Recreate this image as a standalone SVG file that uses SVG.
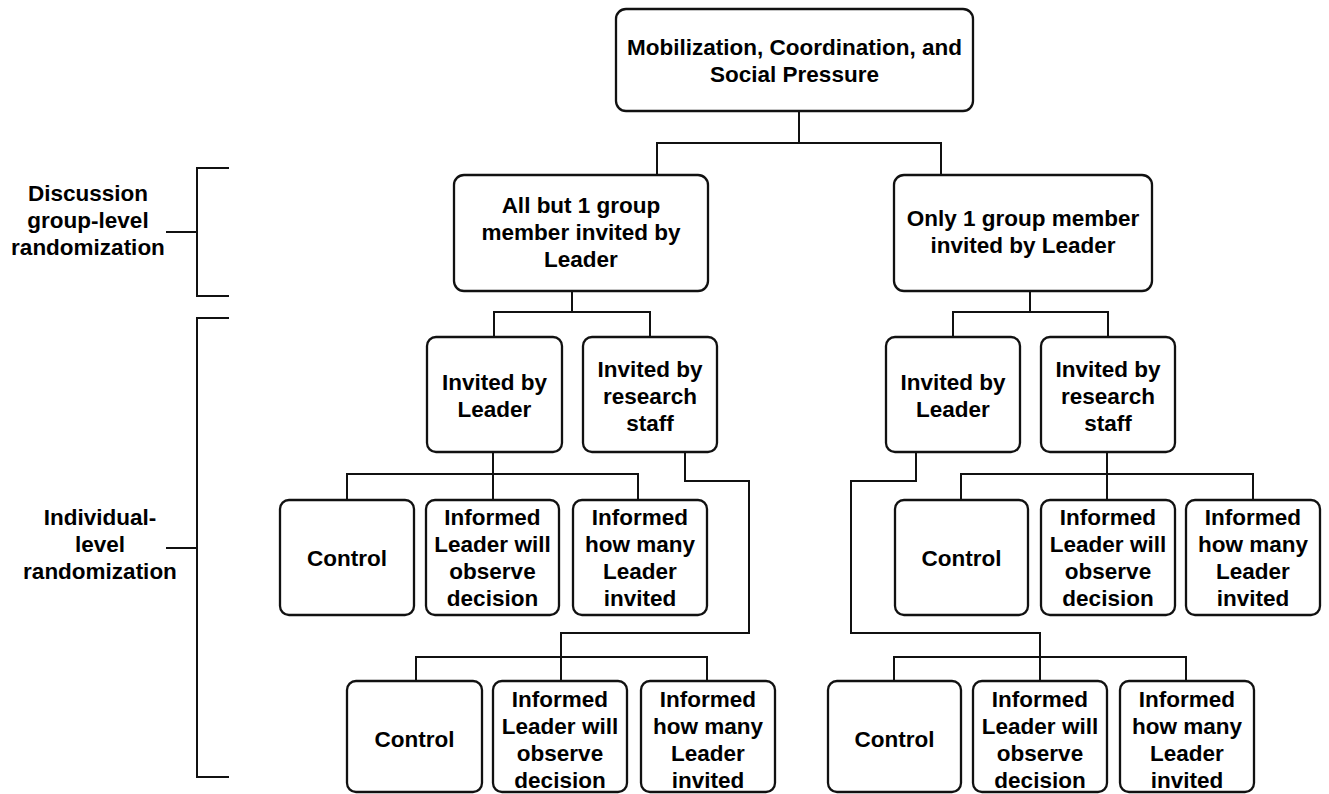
<svg xmlns="http://www.w3.org/2000/svg" width="1329" height="794" viewBox="0 0 1329 794">
<style>
.box{fill:#fff;stroke:#111;stroke-width:2.3}
.ln{fill:none;stroke:#111;stroke-width:2}
text{font-family:"Liberation Sans",Arial,sans-serif;font-weight:bold;font-size:22.5px;fill:#000;text-anchor:middle}
</style>
<rect width="1329" height="794" fill="#fff"/>
<g id="connectors">
<path class="ln" d="M799,111V143M657,175V143H941V175"/>
<path class="ln" d="M572,291V312M494,337V312H650V337"/>
<path class="ln" d="M1030,291V312M953,337V312H1108V337"/>
<path class="ln" d="M493,452V500M347,500V474H638V500"/>
<path class="ln" d="M685,452V481H749V633H561V681M416,681V657H707V681"/>
<path class="ln" d="M916,452V481H851V633H1040V681M894,681V657H1186V681"/>
<path class="ln" d="M1107,452V500M961,500V474H1253V500"/>
</g>
<g id="brackets">
<path class="ln" d="M229,168H197V296H229M166,232H197"/>
<path class="ln" d="M229,318H197V777H229M166,548H197"/>
</g>
<g id="label-discussion">
<text x="88" y="201">Discussion</text>
<text x="88" y="228">group-level</text>
<text x="88" y="255">randomization</text>
</g>
<g id="label-individual">
<text x="100" y="525">Individual-</text>
<text x="100" y="552">level</text>
<text x="100" y="579">randomization</text>
</g>
<g id="root">
<rect class="box" x="616" y="9" width="357" height="102" rx="10"/>
<text x="794.5" y="55">Mobilization, Coordination, and</text>
<text x="794.5" y="82">Social Pressure</text>
</g>
<g id="allbut1">
<rect class="box" x="454" y="175" width="254" height="116" rx="10"/>
<text x="581" y="213">All but 1 group</text>
<text x="581" y="240">member invited by</text>
<text x="581" y="267">Leader</text>
</g>
<g id="only1">
<rect class="box" x="894" y="175" width="258" height="116" rx="10"/>
<text x="1023" y="226">Only 1 group member</text>
<text x="1023" y="253">invited by Leader</text>
</g>
<g id="L-leader">
<rect class="box" x="427" y="337" width="135" height="115" rx="9"/>
<text x="494.5" y="390">Invited by</text>
<text x="494.5" y="417">Leader</text>
</g>
<g id="L-staff">
<rect class="box" x="583" y="337" width="134" height="115" rx="9"/>
<text x="650" y="377">Invited by</text>
<text x="650" y="404">research</text>
<text x="650" y="431">staff</text>
</g>
<g id="R-leader">
<rect class="box" x="886" y="337" width="134" height="115" rx="9"/>
<text x="953" y="390">Invited by</text>
<text x="953" y="417">Leader</text>
</g>
<g id="R-staff">
<rect class="box" x="1041" y="337" width="134" height="115" rx="9"/>
<text x="1108" y="377">Invited by</text>
<text x="1108" y="404">research</text>
<text x="1108" y="431">staff</text>
</g>
<g id="LL-control">
<rect class="box" x="280" y="500" width="134" height="115" rx="9"/>
<text x="347" y="566">Control</text>
</g>
<g id="LL-observe">
<rect class="box" x="426" y="500" width="133" height="115" rx="9"/>
<text x="492.5" y="525">Informed</text>
<text x="492.5" y="552">Leader will</text>
<text x="492.5" y="579">observe</text>
<text x="492.5" y="606">decision</text>
</g>
<g id="LL-howmany">
<rect class="box" x="573" y="500" width="134" height="115" rx="9"/>
<text x="640" y="525">Informed</text>
<text x="640" y="552">how many</text>
<text x="640" y="579">Leader</text>
<text x="640" y="606">invited</text>
</g>
<g id="RS-control">
<rect class="box" x="895" y="500" width="133" height="115" rx="9"/>
<text x="961.5" y="566">Control</text>
</g>
<g id="RS-observe">
<rect class="box" x="1041" y="500" width="134" height="115" rx="9"/>
<text x="1108" y="525">Informed</text>
<text x="1108" y="552">Leader will</text>
<text x="1108" y="579">observe</text>
<text x="1108" y="606">decision</text>
</g>
<g id="RS-howmany">
<rect class="box" x="1186" y="500" width="134" height="115" rx="9"/>
<text x="1253" y="525">Informed</text>
<text x="1253" y="552">how many</text>
<text x="1253" y="579">Leader</text>
<text x="1253" y="606">invited</text>
</g>
<g id="LS-control">
<rect class="box" x="347" y="681" width="135" height="111" rx="9"/>
<text x="414.5" y="747">Control</text>
</g>
<g id="LS-observe">
<rect class="box" x="493" y="681" width="134" height="111" rx="9"/>
<text x="560" y="707">Informed</text>
<text x="560" y="734">Leader will</text>
<text x="560" y="761">observe</text>
<text x="560" y="788">decision</text>
</g>
<g id="LS-howmany">
<rect class="box" x="641" y="681" width="134" height="111" rx="9"/>
<text x="708" y="707">Informed</text>
<text x="708" y="734">how many</text>
<text x="708" y="761">Leader</text>
<text x="708" y="788">invited</text>
</g>
<g id="RL-control">
<rect class="box" x="828" y="681" width="133" height="111" rx="9"/>
<text x="894.5" y="747">Control</text>
</g>
<g id="RL-observe">
<rect class="box" x="973" y="681" width="134" height="111" rx="9"/>
<text x="1040" y="707">Informed</text>
<text x="1040" y="734">Leader will</text>
<text x="1040" y="761">observe</text>
<text x="1040" y="788">decision</text>
</g>
<g id="RL-howmany">
<rect class="box" x="1120" y="681" width="134" height="111" rx="9"/>
<text x="1187" y="707">Informed</text>
<text x="1187" y="734">how many</text>
<text x="1187" y="761">Leader</text>
<text x="1187" y="788">invited</text>
</g>
</svg>
